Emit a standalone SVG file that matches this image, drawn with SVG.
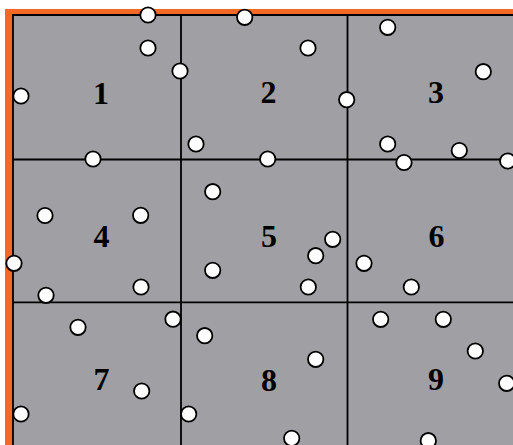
<svg xmlns="http://www.w3.org/2000/svg" width="513" height="445" viewBox="0 0 513 445">
<style>
.pt{fill:#fff;stroke:#000;stroke-width:1.8}
.grid{stroke:#000;stroke-width:1.8;fill:none}
.lbl{font-family:"Liberation Serif",serif;font-weight:bold;font-size:32px;text-anchor:middle;fill:#000}
</style>
<rect x="0" y="0" width="513" height="445" fill="#fff"/>
<rect x="5" y="9" width="508" height="436" fill="#f26a25"/>
<rect x="13" y="15" width="500" height="430" fill="#a0a0a4"/>
<g class="grid">
<path d="M13 445V15H513"/>
<path d="M181 15V445M347.5 15V445M13 159.5H513M13 302.3H513"/>
</g>
<g id="labels">
<text class="lbl" x="101" y="103.5">1</text>
<text class="lbl" x="268.5" y="103">2</text>
<text class="lbl" x="436" y="102.5">3</text>
<text class="lbl" x="101.5" y="247">4</text>
<text class="lbl" x="269" y="247">5</text>
<text class="lbl" x="436.5" y="247">6</text>
<text class="lbl" x="101.5" y="390">7</text>
<text class="lbl" x="269" y="390.5">8</text>
<text class="lbl" x="436" y="390">9</text>
</g>
<g id="points">
<circle class="pt" r="7.7" cx="148" cy="15"/>
<circle class="pt" r="7.7" cx="148" cy="48"/>
<circle class="pt" r="7.7" cx="180" cy="71"/>
<circle class="pt" r="7.7" cx="21" cy="96"/>
<circle class="pt" r="7.7" cx="93" cy="159"/>
<circle class="pt" r="7.7" cx="244.7" cy="17.3"/>
<circle class="pt" r="7.7" cx="308" cy="48"/>
<circle class="pt" r="7.7" cx="346.7" cy="99.7"/>
<circle class="pt" r="7.7" cx="196" cy="144"/>
<circle class="pt" r="7.7" cx="267.7" cy="159"/>
<circle class="pt" r="7.7" cx="387.7" cy="27.3"/>
<circle class="pt" r="7.7" cx="483.3" cy="71.7"/>
<circle class="pt" r="7.7" cx="387.7" cy="144"/>
<circle class="pt" r="7.7" cx="404" cy="162.5"/>
<circle class="pt" r="7.7" cx="459.3" cy="150.5"/>
<circle class="pt" r="7.7" cx="507.7" cy="161"/>
<circle class="pt" r="7.7" cx="45" cy="215.5"/>
<circle class="pt" r="7.7" cx="140.7" cy="215.3"/>
<circle class="pt" r="7.7" cx="14" cy="263.3"/>
<circle class="pt" r="7.7" cx="46" cy="295.3"/>
<circle class="pt" r="7.7" cx="141" cy="287"/>
<circle class="pt" r="7.7" cx="212.7" cy="191.7"/>
<circle class="pt" r="7.7" cx="332.7" cy="239.3"/>
<circle class="pt" r="7.7" cx="315.7" cy="255.7"/>
<circle class="pt" r="7.7" cx="212.7" cy="270.3"/>
<circle class="pt" r="7.7" cx="308.3" cy="287"/>
<circle class="pt" r="7.7" cx="364" cy="263.3"/>
<circle class="pt" r="7.7" cx="411.3" cy="287"/>
<circle class="pt" r="7.7" cx="78" cy="327.3"/>
<circle class="pt" r="7.7" cx="173" cy="319.2"/>
<circle class="pt" r="7.7" cx="141.7" cy="391"/>
<circle class="pt" r="7.7" cx="21" cy="414"/>
<circle class="pt" r="7.7" cx="204.7" cy="335.7"/>
<circle class="pt" r="7.7" cx="315.7" cy="359.3"/>
<circle class="pt" r="7.7" cx="188.7" cy="414"/>
<circle class="pt" r="7.7" cx="291.7" cy="438.3"/>
<circle class="pt" r="7.7" cx="380.7" cy="319.3"/>
<circle class="pt" r="7.7" cx="443.3" cy="319.3"/>
<circle class="pt" r="7.7" cx="475.3" cy="351"/>
<circle class="pt" r="7.7" cx="506.7" cy="383.3"/>
<circle class="pt" r="7.7" cx="428.3" cy="440.7"/>
</g>
</svg>
